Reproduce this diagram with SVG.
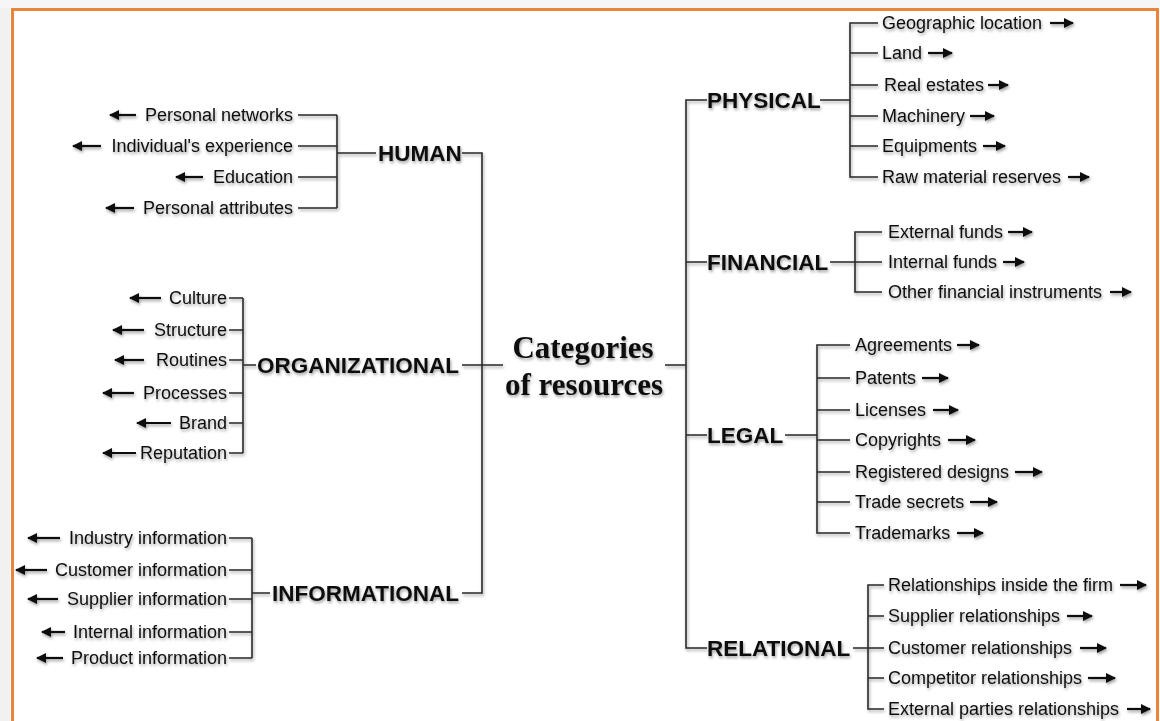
<svg xmlns="http://www.w3.org/2000/svg" width="1160" height="721" viewBox="0 0 1160 721">
<defs>
<marker id="ah" viewBox="0 0 10 10" refX="9" refY="5" markerUnits="userSpaceOnUse" markerWidth="11" markerHeight="10" orient="auto">
<path d="M0,0 L10,5 L0,10 z" fill="#111"/>
</marker>
<filter id="sh" x="-10%" y="-30%" width="120%" height="170%">
<feDropShadow dx="1" dy="2" stdDeviation="1.5" flood-color="#000" flood-opacity="0.38"/>
</filter>
</defs>
<style>
.it{font-family:"Liberation Sans",Arial,sans-serif;font-size:18px;fill:#111}
.cat{font-family:"Liberation Sans",Arial,sans-serif;font-size:22.5px;font-weight:bold;fill:#111}
.ttl{font-family:"Liberation Serif","Times New Roman",serif;font-size:31px;font-weight:bold;fill:#111}
.ln{stroke:#2a2a2a;stroke-width:1.6;fill:none}
.ar{stroke:#111;stroke-width:2.2;fill:none;marker-end:url(#ah)}
.r{text-anchor:end}
</style>
<rect x="0" y="0" width="1160" height="721" fill="#ffffff"/>
<rect x="0" y="0" width="10" height="721" fill="#f1f1f1"/>
<rect x="0" y="0" width="1160" height="8" fill="#f6f6f6"/>
<rect x="12.5" y="9.5" width="1145" height="730" fill="#ffffff" stroke="#E8853A" stroke-width="3"/>

<g id="connectors" filter="url(#sh)">
<path class="ln" d="M298,115 H337 M298,146 H337 M298,177 H337 M298,208 H337 M337,115 V208 M337,153 H376 M462,153 H482 V593 H462"/>
<path class="ln" d="M229,298 H243 M229,330 H243 M229,360 H243 M229,393 H243 M229,423 H243 M229,453 H243 M243,298 V453 M243,365 H256 M462,365 H503"/>
<path class="ln" d="M229,538 H252 M229,570 H252 M229,599 H252 M229,632 H252 M229,658 H252 M252,538 V658 M252,593 H270"/>
<path class="ln" d="M665,365 H686 M707,100 H686 V648 H707 M686,262 H707 M686,435 H707"/>
<path class="ln" d="M820,100 H850 M878,23 H850 V177 H878 M850,53 H878 M850,85 H878 M850,116 H878 M850,146 H878"/>
<path class="ln" d="M830,262 H882 M882,232 H855 V292 H882"/>
<path class="ln" d="M785,435 H817 M850,345 H817 V533 H850 M817,378 H850 M817,410 H850 M817,440 H850 M817,472 H850 M817,502 H850"/>
<path class="ln" d="M853,648 H884 M884,585 H868 V709 H884 M868,616 H884 M868,678 H884"/>
<line class="ar" x1="136" y1="115" x2="110" y2="115"/>
<line class="ar" x1="101" y1="146" x2="73" y2="146"/>
<line class="ar" x1="203" y1="177" x2="176" y2="177"/>
<line class="ar" x1="134" y1="208" x2="106" y2="208"/>
<line class="ar" x1="161" y1="298" x2="130" y2="298"/>
<line class="ar" x1="144" y1="330" x2="113" y2="330"/>
<line class="ar" x1="144" y1="360" x2="115" y2="360"/>
<line class="ar" x1="134" y1="393" x2="103" y2="393"/>
<line class="ar" x1="171" y1="423" x2="137" y2="423"/>
<line class="ar" x1="136" y1="453" x2="103" y2="453"/>
<line class="ar" x1="60" y1="538" x2="28" y2="538"/>
<line class="ar" x1="47" y1="570" x2="16" y2="570"/>
<line class="ar" x1="58" y1="599" x2="28" y2="599"/>
<line class="ar" x1="65" y1="632" x2="42" y2="632"/>
<line class="ar" x1="63" y1="658" x2="37" y2="658"/>
<line class="ar" x1="1050" y1="23" x2="1073" y2="23"/>
<line class="ar" x1="928" y1="53" x2="952" y2="53"/>
<line class="ar" x1="988" y1="85" x2="1008" y2="85"/>
<line class="ar" x1="970" y1="116" x2="994" y2="116"/>
<line class="ar" x1="983" y1="146" x2="1005" y2="146"/>
<line class="ar" x1="1068" y1="177" x2="1089" y2="177"/>
<line class="ar" x1="1008" y1="232" x2="1032" y2="232"/>
<line class="ar" x1="1003" y1="262" x2="1024" y2="262"/>
<line class="ar" x1="1110" y1="292" x2="1131" y2="292"/>
<line class="ar" x1="957" y1="345" x2="979" y2="345"/>
<line class="ar" x1="922" y1="378" x2="948" y2="378"/>
<line class="ar" x1="933" y1="410" x2="958" y2="410"/>
<line class="ar" x1="948" y1="440" x2="975" y2="440"/>
<line class="ar" x1="1015" y1="472" x2="1042" y2="472"/>
<line class="ar" x1="970" y1="502" x2="997" y2="502"/>
<line class="ar" x1="957" y1="533" x2="983" y2="533"/>
<line class="ar" x1="1120" y1="585" x2="1146" y2="585"/>
<line class="ar" x1="1067" y1="616" x2="1092" y2="616"/>
<line class="ar" x1="1080" y1="648" x2="1106" y2="648"/>
<line class="ar" x1="1088" y1="678" x2="1115" y2="678"/>
<line class="ar" x1="1127" y1="709" x2="1150" y2="709"/>
</g>

<g id="center" filter="url(#sh)">
<text class="ttl" x="583" y="358" text-anchor="middle">Categories</text>
<text class="ttl" x="584" y="395" text-anchor="middle">of resources</text>
</g>

<g id="human" filter="url(#sh)">
<text class="cat" x="378" y="161">HUMAN</text>
<text class="it r" x="293" y="121">Personal networks</text>
<text class="it r" x="293" y="152">Individual's experience</text>
<text class="it r" x="293" y="183">Education</text>
<text class="it r" x="293" y="214">Personal attributes</text>
</g>

<g id="organizational" filter="url(#sh)">
<text class="cat" x="257" y="373">ORGANIZATIONAL</text>
<text class="it r" x="227" y="304">Culture</text>
<text class="it r" x="227" y="336">Structure</text>
<text class="it r" x="227" y="366">Routines</text>
<text class="it r" x="227" y="399">Processes</text>
<text class="it r" x="227" y="429">Brand</text>
<text class="it r" x="227" y="459">Reputation</text>
</g>

<g id="informational" filter="url(#sh)">
<text class="cat" x="272" y="601">INFORMATIONAL</text>
<text class="it r" x="227" y="544">Industry information</text>
<text class="it r" x="227" y="576">Customer information</text>
<text class="it r" x="227" y="605">Supplier information</text>
<text class="it r" x="227" y="638">Internal information</text>
<text class="it r" x="227" y="664">Product information</text>
</g>

<g id="physical" filter="url(#sh)">
<text class="cat" x="707" y="108">PHYSICAL</text>
<text class="it" x="882" y="29">Geographic location</text>
<text class="it" x="882" y="59">Land</text>
<text class="it" x="884" y="91">Real estates</text>
<text class="it" x="882" y="122">Machinery</text>
<text class="it" x="882" y="152">Equipments</text>
<text class="it" x="882" y="183">Raw material reserves</text>
</g>

<g id="financial" filter="url(#sh)">
<text class="cat" x="707" y="270">FINANCIAL</text>
<text class="it" x="888" y="238">External funds</text>
<text class="it" x="888" y="268">Internal funds</text>
<text class="it" x="888" y="298">Other financial instruments</text>
</g>

<g id="legal" filter="url(#sh)">
<text class="cat" x="707" y="443">LEGAL</text>
<text class="it" x="855" y="351">Agreements</text>
<text class="it" x="855" y="384">Patents</text>
<text class="it" x="855" y="416">Licenses</text>
<text class="it" x="855" y="446">Copyrights</text>
<text class="it" x="855" y="478">Registered designs</text>
<text class="it" x="855" y="508">Trade secrets</text>
<text class="it" x="855" y="539">Trademarks</text>
</g>

<g id="relational" filter="url(#sh)">
<text class="cat" x="707" y="656">RELATIONAL</text>
<text class="it" x="888" y="591">Relationships inside the firm</text>
<text class="it" x="888" y="622">Supplier relationships</text>
<text class="it" x="888" y="654">Customer relationships</text>
<text class="it" x="888" y="684">Competitor relationships</text>
<text class="it" x="888" y="715">External parties relationships</text>
</g>
</svg>
